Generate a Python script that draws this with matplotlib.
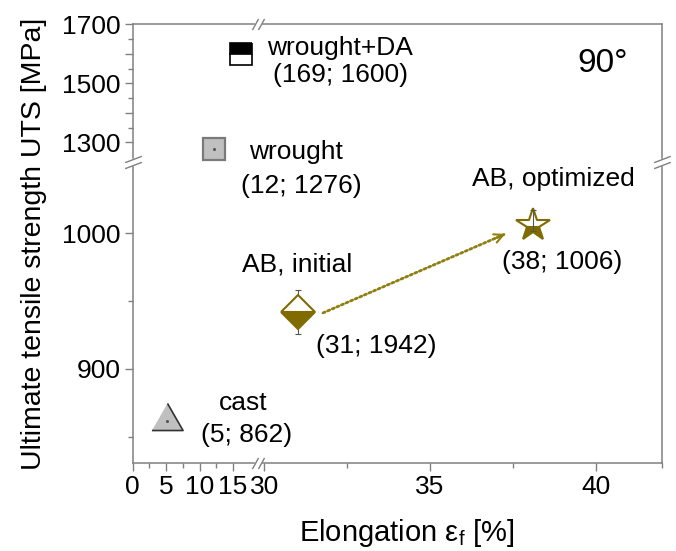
import numpy as np
import matplotlib
matplotlib.use('Agg')
import matplotlib.pyplot as plt
from matplotlib import transforms
from matplotlib.ticker import FixedLocator, FixedFormatter

plt.rcParams['font.family'] = ['Liberation Sans', 'DejaVu Sans']
plt.rcParams['mathtext.fontset'] = 'custom'
plt.rcParams['mathtext.rm'] = 'Liberation Sans'
plt.rcParams['mathtext.it'] = 'Liberation Sans:italic'

# values
names = ['wrought+DA', 'wrought', 'cast', 'AB, initial', 'AB, optimized']
coords = ['(169; 1600)', '(12; 1276)', '(5; 862)', '(31; 1942)', '(38; 1006)']
elong = [16.2, 12.2, 5.1, 31.0, 38.1]
uts = [1600, 1276, 862, 942, 1006]
err_lo = [0, 0, 0, 16.5, 4]
err_hi = [0, 0, 0, 16.5, 11]

x_major = [0, 5, 10, 15, 30, 35, 40]
x_minor = [2.5, 7.5, 12.5, 32.5, 37.5, 42]
y_major = [900, 1000, 1300, 1400, 1500, 1600, 1700]
y_major_lbl = ['900', '1000', '1300', '', '1500', '', '1700']
y_minor = [850, 950, 1350, 1450, 1550, 1650]

# broken axes -> piecewise linear scales
xb = [-50, 17.5, 30, 100]
xu = [-50, 17.5, 19.67, 19.67 + 70 * 4.95]
yb = [0, 1050, 1260, 3000]
yv = [-830.5, 219.5, 227.8, 606.1]

olive = '#7f6b00'
gray = '#808080'

fig = plt.figure(figsize=(6.76, 5.51), dpi=100)
ax = fig.add_axes([0.1963, 0.1592, 0.783, 0.7967])
ax.set_xscale('function', functions=(lambda x: np.interp(x, xb, xu),
                                     lambda u: np.interp(u, xu, xb)))
ax.set_yscale('function', functions=(lambda y: np.interp(y, yb, yv),
                                     lambda v: np.interp(v, yv, yb)))
ax.set_xlim(0, 42)
ax.set_ylim(830.5, 1700)

# markers
ax.plot(elong[0], uts[0], 's', ms=15.5, fillstyle='top', mfc='black',
        mfcalt='white', mec='black', mew=1.2, zorder=3)
ax.plot(elong[1], uts[1], 's', ms=16.5, mfc='#c0c0c0', mec='#7a7a7a',
        mew=1.6, zorder=3)
tri = [(-1, -0.58), (1, -0.58), (0, 1.16)]
ax.plot(elong[2], uts[2], marker=tri, ms=26, mfc='#c0c0c0', mec='#333333',
        mew=1.2, zorder=3)
ax.plot(elong[1:3], uts[1:3], 'o', ms=1.2, color='#555555', zorder=4)

ax.errorbar(elong[3], uts[3], yerr=[[err_lo[3]], [err_hi[3]]], fmt='none',
            ecolor='#555555', elinewidth=0.8, capsize=2.4, capthick=0.8, zorder=2)
ax.plot(elong[3], uts[3], 'D', ms=17, fillstyle='bottom', mfc=olive,
        mfcalt='white', mec=olive, mew=1.5, zorder=3)
ax.plot(elong[4], uts[4], '*', ms=25, fillstyle='bottom', mfc=olive,
        mfcalt='white', mec=olive, mew=1.5, zorder=3)
ax.errorbar(elong[4], uts[4], yerr=[[err_lo[4]], [err_hi[4]]], fmt='none',
            ecolor='#555555', elinewidth=0.8, capsize=2.4, capthick=0.8, zorder=4)

# arrow initial -> optimized
a_start = (31.77, 941.3)
a_end = (37.27, 999.5)
ax.annotate('', xy=a_end, xytext=a_start,
            arrowprops=dict(arrowstyle='-', color='#8f7f10', lw=2,
                            linestyle=(0, (0.8, 1)), shrinkA=0, shrinkB=0))
ax.annotate('', xy=a_end, xytext=(-7.3, -3.2), textcoords='offset points',
            arrowprops=dict(arrowstyle='->', color='#8f7f10', lw=1.5,
                            shrinkA=0, shrinkB=0, mutation_scale=16))

# labels (offsets in points from each marker)
name_off = [(71.4, -0.9), (58.5, -6.9), (54.9, 7.7), (0, 29.3), (15.1, 28.2)]
coord_off = [(71.8, -20.2), (62.3, -31.4), (57.6, -15.1), (57, -29.2), (20.9, -31.8)]
for i in range(len(names)):
    ax.annotate(names[i], (elong[i], uts[i]), xytext=name_off[i],
                textcoords='offset points', ha='center', va='baseline', fontsize=19)
    ax.annotate(coords[i], (elong[i], uts[i]), xytext=coord_off[i],
                textcoords='offset points', ha='center', va='baseline', fontsize=19)
ax.text(0.888, 0.892, '90°', transform=ax.transAxes, ha='center',
        va='baseline', fontsize=24)

# ticks and spines
ax.xaxis.set_major_locator(FixedLocator(x_major))
ax.xaxis.set_minor_locator(FixedLocator(x_minor))
ax.xaxis.set_major_formatter(FixedFormatter([str(v) for v in x_major]))
ax.xaxis.set_minor_formatter(FixedFormatter([''] * len(x_minor)))
ax.yaxis.set_major_locator(FixedLocator(y_major))
ax.yaxis.set_minor_locator(FixedLocator(y_minor))
ax.yaxis.set_major_formatter(FixedFormatter(y_major_lbl))
ax.yaxis.set_minor_formatter(FixedFormatter([''] * len(y_minor)))
ax.tick_params(which='both', direction='out', color=gray, width=1,
               labelsize=19, pad=3, top=False, right=False)
ax.tick_params(which='major', length=5.5)
ax.tick_params(which='minor', length=3.5)
for s in ax.spines.values():
    s.set_color(gray)
    s.set_linewidth(1.1)

ax.set_xlabel('Elongation ε$_\\mathrm{f}$ [%]', fontsize=21)
ax.set_ylabel('Ultimate tensile strength UTS [MPa]', fontsize=20.5)
ax.xaxis.set_label_coords(0.518, -0.122)
ax.yaxis.set_label_coords(-0.162, 0.5)


# axis break marks: two slashes with a white gap
def break_mark(trans, x, y, verts, ms, shift):
    ax.plot([x], [y], 's', ms=4, mfc='white', mec='white', transform=trans,
            clip_on=False, zorder=5)
    for k in (-1, 1):
        t = trans + transforms.ScaledTranslation(k * shift[0] / 72, k * shift[1] / 72,
                                                 fig.dpi_scale_trans)
        ax.plot([x], [y], marker=verts, ms=ms, color=gray, mew=1,
                transform=t, clip_on=False, zorder=6)


x_break = 24.6
y_break = 1113
steep = [(-0.55, -1), (0.55, 1)]
flat = [(-1, -0.38), (1, 0.38)]
break_mark(ax.get_xaxis_transform(), x_break, 0, steep, 8, (2.2, 0))
break_mark(ax.get_xaxis_transform(), x_break, 1, steep, 8, (2.2, 0))
break_mark(ax.get_yaxis_transform(), 0, y_break, flat, 12, (0, 2))
break_mark(ax.get_yaxis_transform(), 1, y_break, flat, 12, (0, 2))

fig.savefig('out.png', dpi=100)
